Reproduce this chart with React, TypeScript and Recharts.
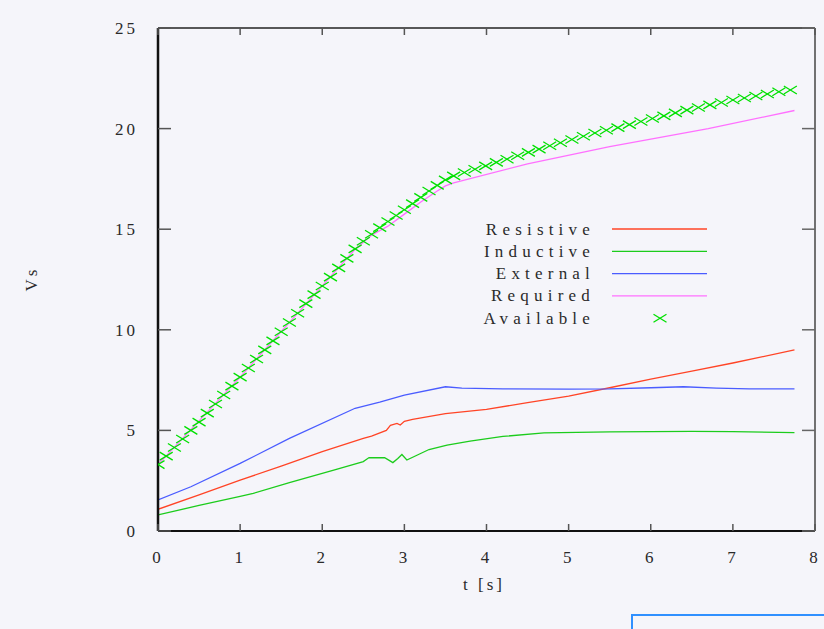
import { LineChart, Line, XAxis, YAxis } from 'recharts';

const FONT = "'Liberation Serif', 'DejaVu Serif', serif";

const xTicks = [0, 1, 2, 3, 4, 5, 6, 7, 8];
const yTicks = [0, 5, 10, 15, 20, 25];

// Resistive (red)
const resistiveT = [0, 0.5, 1.0, 1.5, 2.0, 2.5, 2.6, 2.78, 2.83, 2.91, 2.95, 3.0, 3.1, 3.5, 4.0, 4.5, 5.0, 5.5, 6.0, 6.5, 7.0, 7.75];
const resistiveV = [1.08, 1.8, 2.53, 3.22, 3.95, 4.6, 4.72, 5.0, 5.25, 5.35, 5.27, 5.45, 5.55, 5.83, 6.05, 6.38, 6.7, 7.12, 7.55, 7.95, 8.35, 9.0];

// Inductive (green)
const inductiveT = [0, 0.5, 1.0, 1.16, 1.6, 2.14, 2.5, 2.57, 2.76, 2.82, 2.86, 2.92, 2.97, 3.03, 3.3, 3.52, 3.8, 4.2, 4.7, 5.5, 6.5, 7.0, 7.75];
const inductiveV = [0.8, 1.27, 1.72, 1.87, 2.4, 3.03, 3.45, 3.65, 3.64, 3.5, 3.4, 3.6, 3.8, 3.53, 4.05, 4.27, 4.47, 4.7, 4.88, 4.93, 4.95, 4.94, 4.89];

// External (blue)
const externalT = [0, 0.4, 1.0, 1.6, 2.4, 2.7, 3.0, 3.5, 3.7, 4.2, 5.0, 5.5, 6.0, 6.4, 6.8, 7.2, 7.75];
const externalV = [1.54, 2.2, 3.36, 4.6, 6.1, 6.4, 6.75, 7.17, 7.1, 7.06, 7.05, 7.06, 7.12, 7.17, 7.1, 7.06, 7.06];

// Required (magenta)
const requiredT = [0, 1.0, 2.0, 2.4, 2.6, 2.8, 3.0, 3.2, 3.4, 3.5, 3.6, 4.5, 5.5, 6.7, 7.75];
const requiredV = [3.3, 7.65, 12.18, 14.0, 14.7, 15.15, 15.75, 16.35, 16.9, 17.15, 17.3, 18.25, 19.1, 20.0, 20.9];

// Available (green crosses)
const availableT = [
  0, 0.1, 0.2, 0.3, 0.4, 0.5, 0.6, 0.7, 0.8, 0.9, 1.0, 1.1, 1.2, 1.3, 1.4, 1.5, 1.6, 1.7, 1.8, 1.9,
  2.0, 2.1, 2.2, 2.3, 2.4, 2.5, 2.6, 2.7, 2.8, 2.9, 3.0, 3.1, 3.2, 3.3, 3.4, 3.5, 3.6,
  3.73, 3.86, 3.99, 4.12, 4.25, 4.38, 4.51, 4.64, 4.77, 4.9, 5.04, 5.18, 5.32, 5.46, 5.6, 5.74,
  5.88, 6.02, 6.16, 6.3, 6.44, 6.58, 6.72, 6.86, 7.0, 7.14, 7.28, 7.42, 7.56, 7.7,
];
const availableV = [
  3.3, 3.72, 4.15, 4.57, 5.0, 5.41, 5.86, 6.31, 6.76, 7.2, 7.65, 8.1, 8.55, 9.0, 9.45, 9.9, 10.36, 10.82, 11.3, 11.75,
  12.18, 12.62, 13.08, 13.55, 14.02, 14.4, 14.75, 15.08, 15.38, 15.68, 15.97, 16.27, 16.58, 16.9, 17.18, 17.45, 17.65,
  17.82, 17.98, 18.15, 18.32, 18.48, 18.65, 18.82, 18.98, 19.15, 19.3, 19.46, 19.62, 19.78, 19.92, 20.05, 20.2,
  20.35, 20.5, 20.63, 20.78, 20.92, 21.05, 21.18, 21.3, 21.42, 21.52, 21.62, 21.72, 21.83, 21.92,
];

const seriesNames = ['Resistive', 'Inductive', 'External', 'Required', 'Available'];
const seriesColors = ['#ff4426', '#1ccc1c', '#4a5cff', '#ff70ff', '#00e000'];

const zip = (t: number[], v: number[]) => t.map((x, i) => ({ t: x, v: v[i] }));

const resistiveData = zip(resistiveT, resistiveV);
const inductiveData = zip(inductiveT, inductiveV);
const externalData = zip(externalT, externalV);
const requiredData = zip(requiredT, requiredV);
const availableData = zip(availableT, availableV);

const textStyle = { fontFamily: FONT, fontSize: 17, letterSpacing: 3, fill: '#2a2a2a' };
const TS = 10; // recharts tickSize (its own line is hidden)
const TM = 10; // recharts tickMargin
const GAP = TS + TM; // axis line -> label anchor
const X_TICK = 7;
const Y_TICK = 13;

function Cross({ cx, cy, color }: any) {
  if (cx == null || cy == null) return <g />;
  return (
    <g>
      <line x1={cx - 6.5} y1={cy - 4} x2={cx + 6.5} y2={cy + 4} stroke={color} strokeWidth={1.3} />
      <line x1={cx - 6.5} y1={cy + 4} x2={cx + 6.5} y2={cy - 4} stroke={color} strokeWidth={1.3} />
    </g>
  );
}

// gnuplot style: tick marks point into the plot
function BottomTick({ x, y, payload }: any) {
  const axisY = y - GAP;
  return (
    <g>
      <line x1={x} x2={x} y1={axisY} y2={axisY - X_TICK} stroke="#555" strokeWidth={1.5} />
      <text x={x} y={y} dy="0.71em" textAnchor="middle" style={textStyle}>
        {payload.value}
      </text>
    </g>
  );
}

function TopTick({ x, y }: any) {
  const axisY = y + GAP;
  return <line x1={x} x2={x} y1={axisY} y2={axisY + X_TICK} stroke="#555" strokeWidth={1.5} />;
}

function LeftTick({ x, y, payload }: any) {
  const axisX = x + GAP;
  return (
    <g>
      <line x1={axisX} x2={axisX + Y_TICK} y1={y} y2={y} stroke="#555" strokeWidth={1.5} />
      <text x={x} y={y} dy="0.355em" textAnchor="end" style={textStyle}>
        {payload.value}
      </text>
    </g>
  );
}

function RightTick({ x, y }: any) {
  const axisX = x - GAP;
  return <line x1={axisX} x2={axisX - Y_TICK} y1={y} y2={y} stroke="#666" strokeWidth={1.5} />;
}

export default function App() {
  return (
    <div style={{ position: 'absolute', left: 0, top: 0, width: 824, height: 629, background: '#f5f5fa', overflow: 'hidden' }}>
      <LineChart width={824} height={629} margin={{ top: 27, right: 8, bottom: 38, left: 0 }}>
        <XAxis
          xAxisId="b"
          dataKey="t"
          type="number"
          domain={[0, 8]}
          ticks={xTicks}
          interval={0}
          allowDataOverflow
          height={60}
          tickSize={TS}
          tickMargin={TM}
          tickLine={false}
          axisLine={{ stroke: '#111', strokeWidth: 2 }}
          tick={<BottomTick />}
        />
        <XAxis
          xAxisId="t"
          orientation="top"
          dataKey="t"
          type="number"
          domain={[0, 8]}
          ticks={xTicks}
          interval={0}
          allowDataOverflow
          height={1}
          tickSize={TS}
          tickMargin={TM}
          tickLine={false}
          axisLine={{ stroke: '#222', strokeWidth: 1.5 }}
          tick={<TopTick />}
        />
        <YAxis
          yAxisId="l"
          type="number"
          domain={[0, 25]}
          ticks={yTicks}
          interval={0}
          allowDataOverflow
          width={158}
          tickSize={TS}
          tickMargin={TM}
          tickLine={false}
          axisLine={{ stroke: '#111', strokeWidth: 2.5 }}
          tick={<LeftTick />}
        />
        <YAxis
          yAxisId="r"
          orientation="right"
          type="number"
          domain={[0, 25]}
          ticks={yTicks}
          interval={0}
          allowDataOverflow
          width={1}
          tickSize={TS}
          tickMargin={TM}
          tickLine={false}
          axisLine={{ stroke: '#444', strokeWidth: 1.5 }}
          tick={<RightTick />}
        />
        <Line xAxisId="b" yAxisId="l" data={resistiveData} dataKey="v" type="linear" stroke={seriesColors[0]} strokeWidth={1.3} dot={false} isAnimationActive={false} />
        <Line xAxisId="b" yAxisId="l" data={inductiveData} dataKey="v" type="linear" stroke={seriesColors[1]} strokeWidth={1.3} dot={false} isAnimationActive={false} />
        <Line xAxisId="b" yAxisId="l" data={externalData} dataKey="v" type="linear" stroke={seriesColors[2]} strokeWidth={1.3} dot={false} isAnimationActive={false} />
        <Line xAxisId="t" yAxisId="r" data={requiredData} dataKey="v" type="linear" stroke={seriesColors[3]} strokeWidth={1.3} dot={false} isAnimationActive={false} />
        <Line
          xAxisId="b"
          yAxisId="l"
          data={availableData}
          dataKey="v"
          type="linear"
          stroke="none"
          dot={(p: any) => <Cross key={p.key} cx={p.cx} cy={p.cy} color={seriesColors[4]} />}
          activeDot={false}
          isAnimationActive={false}
        />
      </LineChart>

      {/* axis titles + legend, drawn over the chart */}
      <svg width={824} height={629} style={{ position: 'absolute', left: 0, top: 0, pointerEvents: 'none' }}>
        <text x={484} y={590} textAnchor="middle" style={textStyle}>
          t [s]
        </text>
        <g transform="translate(31 279) rotate(-90)">
          <text x={0} y={0} textAnchor="middle" dominantBaseline="central" style={textStyle}>
            Vs
          </text>
        </g>
        {seriesNames.map((name, i) => {
          const y = 229 + i * 22.3;
          return (
            <g key={name}>
              <text x={595} y={y} textAnchor="end" dominantBaseline="central" style={{ ...textStyle, letterSpacing: 5.2 }}>
                {name}
              </text>
              {i < 4 ? (
                <line x1={612} x2={707} y1={y} y2={y} stroke={seriesColors[i]} strokeWidth={1.3} />
              ) : (
                <Cross cx={660} cy={y} color={seriesColors[i]} />
              )}
            </g>
          );
        })}
      </svg>

      <div
        style={{
          position: 'absolute',
          left: 631,
          top: 614,
          width: 220,
          height: 40,
          border: '2px solid #3090ff',
          boxSizing: 'border-box',
        }}
      />
    </div>
  );
}
